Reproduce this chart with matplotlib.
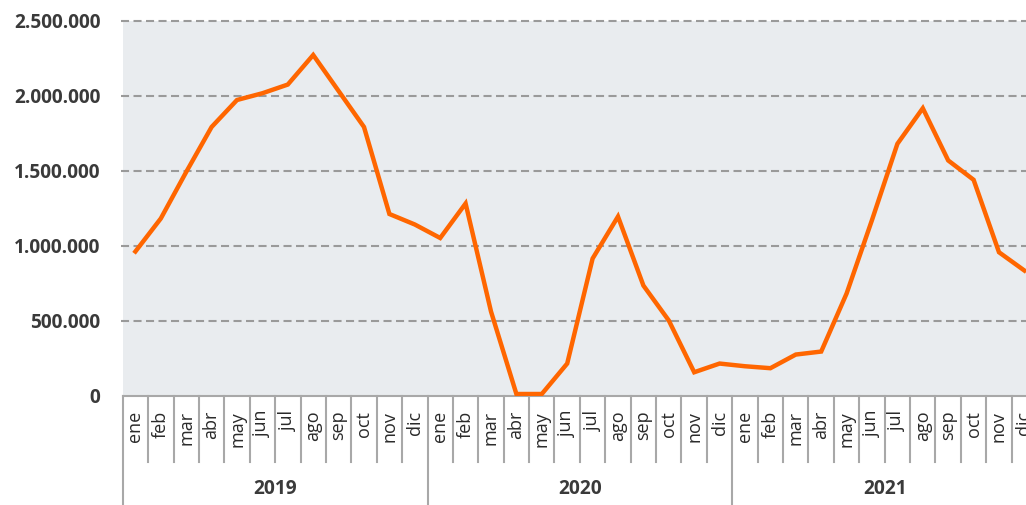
import matplotlib
matplotlib.use("Agg")
import matplotlib.pyplot as plt
from matplotlib.ticker import FuncFormatter

months = ["ene", "feb", "mar", "abr", "may", "jun", "jul", "ago", "sep", "oct", "nov", "dic"]
years = ["2019", "2020", "2021"]
values_2019 = [960000, 1180000, 1490000, 1790000, 1970000, 2015000, 2073000, 2270000, 2030000, 1790000, 1210000, 1140000]
values_2020 = [1050000, 1280000, 560000, 10000, 10000, 213000, 913000, 1193000, 733000, 500000, 155000, 213000]
values_2021 = [195000, 182000, 273000, 293000, 680000, 1170000, 1678000, 1915000, 1567000, 1438000, 955000, 833000]

values = values_2019 + values_2020 + values_2021
labels = months * len(years)
xs = list(range(len(values)))

plt.rcParams['lines.scale_dashes'] = False
fig = plt.figure(figsize=(10.26, 5.05), dpi=100)
ax = fig.add_axes([122.7 / 1026, (505 - 395.5) / 505, 914.4 / 1026, 375 / 505])
ax.set_facecolor("#E9ECEF")

ax.plot(xs, values, color="#FF6600", linewidth=3.2, solid_joinstyle="miter", zorder=3)

ax.set_xlim(-0.5, len(values) - 0.5)
ax.set_ylim(0, 2500000)
ax.set_yticks([0, 500000, 1000000, 1500000, 2000000, 2500000])
ax.yaxis.set_major_formatter(FuncFormatter(lambda v, p: f"{int(v):,}".replace(",", ".")))
for t in [500000, 1000000, 1500000, 2000000, 2500000]:
    ax.plot([-0.55, len(values) - 0.5], [t, t], color="#9A9A9A", linewidth=1.5,
            linestyle=(0, (5.8, 3.2)), clip_on=False, zorder=2)

for s in ["top", "right", "left"]:
    ax.spines[s].set_visible(False)
ax.spines["bottom"].set_color("#A8A8A8")
ax.spines["bottom"].set_linewidth(1.5)

ax.tick_params(axis="y", length=0, pad=16)
for lab in ax.get_yticklabels():
    lab.set_fontfamily("Open Sans")
    lab.set_fontweight("bold")
    lab.set_fontsize(13.7)
    lab.set_color("#3A3A3A")

ax.set_xticks(xs)
ax.set_xticklabels(labels, rotation=90, va="top", ha="center",
                   fontfamily="Open Sans", fontsize=13, color="#2A2A2A")
ax.tick_params(axis="x", length=0, pad=11)

tr = ax.get_xaxis_transform()
ax_h = 375.0
for b in range(len(values) + 1):
    x = b - 0.5
    if b % 12 == 0:
        ax.plot([x, x], [0, -112 / ax_h], color="#A8A8A8", linewidth=1.5,
                transform=tr, clip_on=False)
    else:
        ax.plot([x, x], [0, -66 / ax_h], color="#A8A8A8", linewidth=1.5,
                transform=tr, clip_on=False)

for i, y in enumerate(years):
    ax.text(5.5 + 12 * i, -93.5 / ax_h, y, transform=tr, ha="center", va="center",
            fontfamily="Open Sans", fontweight="bold", fontsize=13.8, color="#3A3A3A")

fig.savefig("out.png", dpi=100)
